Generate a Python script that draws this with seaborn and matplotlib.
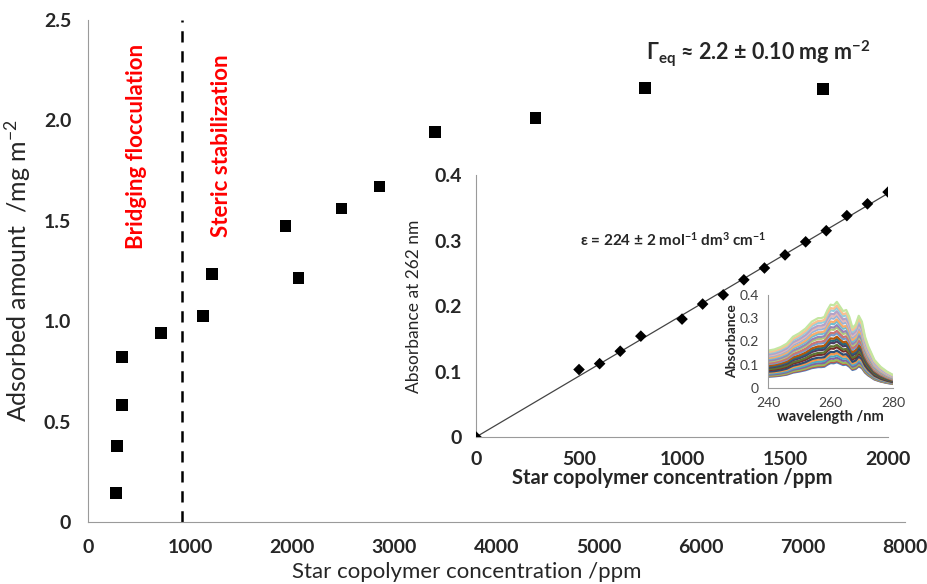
import numpy as np
import pandas as pd
import matplotlib
matplotlib.use("Agg")
import matplotlib.pyplot as plt
import seaborn as sns

# Main chart: adsorbed amount vs star copolymer concentration
conc_ppm = [275, 284, 333, 333, 712, 1126, 1214, 1935, 2061, 2482, 2854, 3395, 4382, 5456, 7194]
adsorbed = [0.146, 0.378, 0.583, 0.823, 0.94, 1.027, 1.235, 1.474, 1.214, 1.562, 1.670, 1.941, 2.013, 2.160, 2.156]
boundary_ppm = 922

# Calibration inset: absorbance at 262 nm vs concentration
cal_ppm = [0, 500, 600, 700, 800, 1000, 1100, 1200, 1300, 1400, 1500, 1600, 1700, 1800, 1900, 2000]
cal_abs = [0, 0.103, 0.112, 0.131, 0.154, 0.180, 0.203, 0.217, 0.240, 0.258, 0.278, 0.298, 0.315, 0.338, 0.356, 0.374]

# UV spectra: shape of the top spectrum, and the 262 nm absorbance of each spectrum
wl_nm = [240, 242, 244, 246, 248, 250, 252, 254, 256, 257, 258, 259, 260, 261, 262, 263, 264, 265,
         266, 267, 268, 269, 270, 271, 272, 274, 276, 278, 280]
top_spectrum = [0.160, 0.165, 0.175, 0.190, 0.220, 0.235, 0.255, 0.285, 0.300, 0.300, 0.305, 0.335,
                0.358, 0.355, 0.370, 0.350, 0.330, 0.335, 0.305, 0.258, 0.272, 0.310, 0.285, 0.220,
                0.180, 0.120, 0.090, 0.070, 0.055]
peak_abs = [0.110, 0.115, 0.120, 0.130, 0.140, 0.150, 0.160, 0.175, 0.185, 0.200, 0.210, 0.220,
            0.235, 0.245, 0.260, 0.270, 0.285, 0.295, 0.310, 0.320, 0.330, 0.345, 0.355, 0.370]

excel_colors = ["#4F81BD", "#C0504D", "#9BBB59", "#8064A2", "#4BACC6", "#F79646",
                "#2C4D75", "#772C2A", "#5F7530", "#4D3B62", "#276A7C", "#B65708",
                "#729ACA", "#CD7371", "#AFC97A", "#9983B5", "#6FBDD1", "#F9AB6B",
                "#95B3D7", "#E6B9B8", "#B3A2C7", "#93CDDD", "#FAC090", "#C3E6A0"]

sns.set_style("white")
plt.rcParams["font.family"] = ["Lato", "DejaVu Sans"]
plt.rcParams["mathtext.fontset"] = "custom"
plt.rcParams["mathtext.rm"] = "Lato"
plt.rcParams["mathtext.bf"] = "Lato:bold"
plt.rcParams["mathtext.it"] = "Lato:italic"

SPINE = "#9a9a9a"

fig = plt.figure(figsize=(9.27, 5.84), dpi=100)
ax = fig.add_axes([0.0949, 0.106, 0.8814, 0.8598])

sns.scatterplot(x=conc_ppm, y=adsorbed, marker="s", s=70, color="black", edgecolor="none", ax=ax)
ax.axvline(boundary_ppm, color="black", linestyle=(0, (4.5, 3.5)), linewidth=1.8)
ax.set_xlim(0, 8000)
ax.set_ylim(0, 2.5)
ax.set_xticks(np.arange(0, 8001, 1000))
ax.set_yticks([0, 0.5, 1.0, 1.5, 2.0, 2.5])
ax.set_yticklabels(["0", "0.5", "1.0", "1.5", "2.0", "2.5"])
for lab in ax.get_xticklabels() + ax.get_yticklabels():
    lab.set_fontweight("bold")
    lab.set_fontsize(14)
ax.tick_params(direction="out", length=4, width=1, color=SPINE, pad=8)
ax.set_xlabel("Star copolymer concentration /ppm", fontsize=16, labelpad=4)
ax.xaxis.set_label_coords(0.463, -0.08)
ax.set_ylabel("Adsorbed amount  /mg m$^{-2}$", fontsize=18, labelpad=8)
for side in ["top", "right"]:
    ax.spines[side].set_visible(False)
for side in ["left", "bottom"]:
    ax.spines[side].set_color(SPINE)

ax.text(476, 2.38, "Bridging flocculation", rotation=90, color="red", fontweight="bold",
        fontsize=16, ha="center", va="top")
ax.text(1311, 2.33, "Steric stabilization", rotation=90, color="red", fontweight="bold",
        fontsize=16, ha="center", va="top")
ax.text(5460, 2.33, r"$\mathbf{\Gamma_{eq}}$ ≈ 2.2 ± 0.10 mg m$^{\mathbf{-2}}$", fontweight="bold",
        fontsize=15.5, ha="left", va="center")

# calibration inset
ax2 = fig.add_axes([0.5135, 0.2517, 0.4445, 0.4486])
ax2.patch.set_alpha(0)
fit_slope = np.sum(np.array(cal_ppm) * np.array(cal_abs)) / np.sum(np.array(cal_ppm) ** 2)
fit_x = np.array([0, 2000])
sns.lineplot(x=fit_x, y=fit_slope * fit_x, color="#444444", linewidth=0.9, ax=ax2)
sns.scatterplot(x=cal_ppm, y=cal_abs, marker="D", s=35, color="black", edgecolor="none", ax=ax2, zorder=3)
ax2.set_xlim(0, 2000)
ax2.set_ylim(0, 0.4)
ax2.set_xticks([0, 500, 1000, 1500, 2000])
ax2.set_yticks([0, 0.1, 0.2, 0.3, 0.4])
ax2.set_yticklabels(["0", "0.1", "0.2", "0.3", "0.4"])
for lab in ax2.get_xticklabels() + ax2.get_yticklabels():
    lab.set_fontweight("bold")
    lab.set_fontsize(14)
ax2.tick_params(direction="out", length=4, width=1, color=SPINE, pad=6)
ax2.set_xlabel("Star copolymer concentration /ppm", fontsize=14.5, fontweight="bold")
ax2.xaxis.set_label_coords(0.476, -0.12)
ax2.set_ylabel("Absorbance at 262 nm", fontsize=12.5, labelpad=9)
for side in ["top", "right"]:
    ax2.spines[side].set_visible(False)
for side in ["left", "bottom"]:
    ax2.spines[side].set_color(SPINE)
ax2.text(505, 0.301, r"ε = 224 ± 2 mol$^{\mathbf{-1}}$ dm$^{\mathbf{3}}$ cm$^{\mathbf{-1}}$", fontweight="bold",
         fontsize=11, ha="left", va="center")

# spectra inset
ax3 = fig.add_axes([0.8285, 0.336, 0.135, 0.159])
ax3.patch.set_alpha(0)
shape = np.array(top_spectrum) / top_spectrum[wl_nm.index(262)]
rows = []
for i, p in enumerate(peak_abs):
    for w, v in zip(wl_nm, shape * p):
        rows.append({"wavelength": w, "absorbance": v, "series": i})
spectra = pd.DataFrame(rows)
sns.lineplot(data=spectra, x="wavelength", y="absorbance", hue="series",
             palette=excel_colors[:len(peak_abs)], linewidth=1.6, legend=False, ax=ax3)
ax3.set_xlim(240, 280)
ax3.set_ylim(0, 0.4)
ax3.set_xticks([240, 260, 280])
ax3.set_yticks([0, 0.1, 0.2, 0.3, 0.4])
ax3.set_yticklabels(["0", "0.1", "0.2", "0.3", "0.4"])
ax3.tick_params(direction="out", length=2.5, width=0.8, color=SPINE, pad=4, labelsize=10, labelcolor="#404040")
ax3.set_xlabel("wavelength /nm", fontsize=10.5, fontweight="bold", labelpad=1)
ax3.set_ylabel("Absorbance", fontsize=10, fontweight="bold", labelpad=1)
for side in ["top", "right"]:
    ax3.spines[side].set_visible(False)
for side in ["left", "bottom"]:
    ax3.spines[side].set_color(SPINE)

plt.savefig("out.png", dpi=100)
